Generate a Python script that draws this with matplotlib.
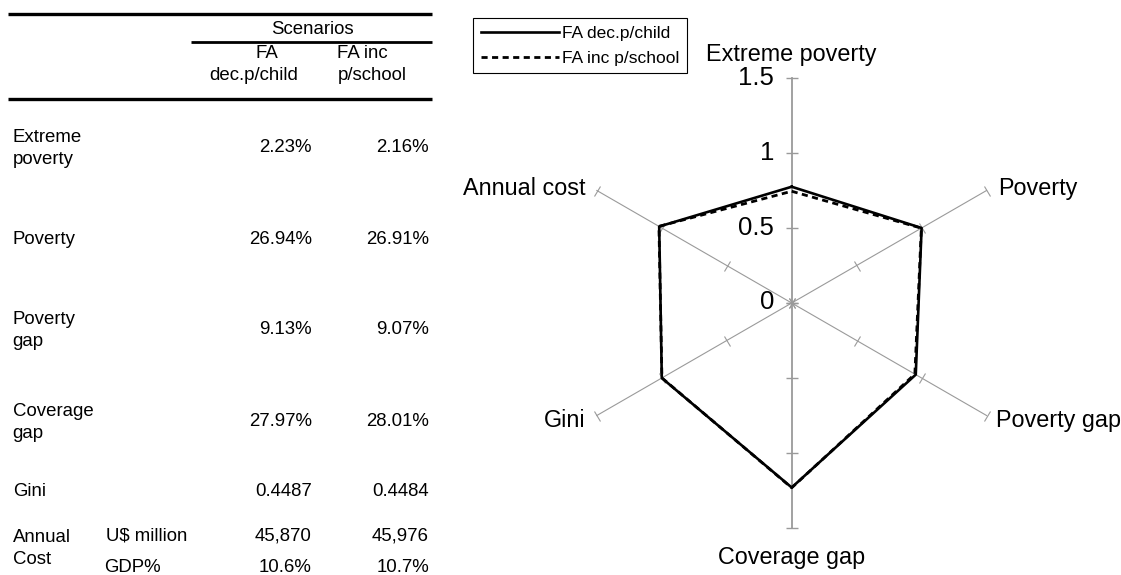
import numpy as np
import matplotlib
matplotlib.use("Agg")
import matplotlib.pyplot as plt
from matplotlib.markers import MarkerStyle
from matplotlib.transforms import Affine2D

plt.rcParams['font.family'] = ['Liberation Sans', 'DejaVu Sans']

# ---- table content ----
scenario_names = ["FA dec.p/child", "FA inc p/school"]
row_labels = ["Extreme\npoverty", "Poverty", "Poverty\ngap", "Coverage\ngap", "Gini", "Annual\nCost"]
col_dec = ["2.23%", "26.94%", "9.13%", "27.97%", "0.4487", "45,870", "10.6%"]
col_inc = ["2.16%", "26.91%", "9.07%", "28.01%", "0.4484", "45,976", "10.7%"]
cost_units = ["U$ million", "GDP%"]

# ---- radar content (relative index) ----
categories = ["Extreme poverty", "Poverty", "Poverty gap", "Coverage gap", "Gini", "Annual cost"]
radar_dec = [0.775, 1.00, 0.955, 1.23, 1.00, 1.02]
radar_inc = [0.745, 0.998, 0.948, 1.232, 0.999, 1.022]
r_ticks = [0, 0.5, 1, 1.5]
r_tick_labels = ["0", "0.5", "1", "1.5"]

W, H = 1121, 575
fig = plt.figure(figsize=(W / 100, H / 100), dpi=100)
fig.patch.set_facecolor("white")

# ---------------- table (pixel-unit overlay) ----------------
tab = fig.add_axes([0, 0, 1, 1])
tab.set_xlim(0, W)
tab.set_ylim(H, 0)
tab.axis("off")

fs = 13.4
tab.plot([8, 432], [13.5, 13.5], color="black", lw=2.4, solid_capstyle="butt")
tab.plot([191, 432], [42.3, 42.3], color="black", lw=2.0, solid_capstyle="butt")
tab.plot([8, 432], [99, 99], color="black", lw=2.4, solid_capstyle="butt")

tab.text(312, 34, "Scenarios", ha="center", va="baseline", fontsize=fs)
tab.text(267, 58, "FA", ha="center", va="baseline", fontsize=fs)
tab.text(254, 80, "dec.p/child", ha="center", va="baseline", fontsize=fs)
tab.text(362, 58, "FA inc", ha="center", va="baseline", fontsize=fs)
tab.text(372, 80, "p/school", ha="center", va="baseline", fontsize=fs)

label_x = 12.7
label_base = [142.5, 244, 324, 415.5, 496.5, 541.5]
value_base = [152.5, 244, 334.5, 426.5, 496.5, 540.5]
for lab, yb in zip(row_labels, label_base):
    for k, line in enumerate(lab.split("\n")):
        tab.text(label_x, yb + k * 22, line, ha="left", va="baseline", fontsize=fs)

x1, x2 = 311.7, 429
for v1, v2, yb in zip(col_dec[:6], col_inc[:6], value_base):
    tab.text(x1, yb, v1, ha="right", va="baseline", fontsize=fs)
    tab.text(x2, yb, v2, ha="right", va="baseline", fontsize=fs)
# GDP share row
gdp_y = 572.5
tab.text(104, gdp_y, cost_units[1], ha="left", va="baseline", fontsize=fs)
tab.text(x1, gdp_y, col_dec[6], ha="right", va="baseline", fontsize=fs)
tab.text(x2, gdp_y, col_inc[6], ha="right", va="baseline", fontsize=fs)
tab.text(106, 540.5, cost_units[0], ha="left", va="baseline", fontsize=fs)

# ---------------- radar chart ----------------
cx, cy, R = 791.7, 303, 225
ax = fig.add_axes([(cx - R) / W, (H - cy - R) / H, 2 * R / W, 2 * R / H], projection="polar")
ax.set_theta_zero_location("N")
ax.set_theta_direction(-1)
ax.set_ylim(0, 1.5)
ax.grid(False)
ax.spines["polar"].set_visible(False)
ax.set_xticks([])
ax.set_yticks([])
ax.patch.set_visible(False)

n = len(categories)
theta = np.linspace(0, 2 * np.pi, n, endpoint=False)
spoke_col = "#9a9a9a"
for i, t in enumerate(theta):
    ax.plot([t, t], [0, 1.5], color=spoke_col, lw=1.3 if i in (0, 3) else 0.8,
            clip_on=False, zorder=1)
    rot = -np.degrees(t)
    mk = MarkerStyle("_", transform=Affine2D().rotate_deg(rot))
    ax.plot([t] * len(r_ticks), r_ticks, linestyle="none", marker=mk, ms=9,
            mec=spoke_col, mew=1.0 if i in (0, 3) else 0.8, clip_on=False, zorder=1)

th_closed = np.append(theta, theta[0])
l_inc, = ax.plot(th_closed, radar_inc + radar_inc[:1], color="black", lw=2.0,
                 linestyle=(0, (2.2, 1.6)), clip_on=False, zorder=3,
                 label=scenario_names[1])
l_dec, = ax.plot(th_closed, radar_dec + radar_dec[:1], color="black", lw=1.9,
                 clip_on=False, zorder=4, label=scenario_names[0])

# radial scale labels on the top spoke
for rv, rl in zip(r_ticks, r_tick_labels):
    ax.annotate(rl, xy=(0, rv), xytext=(-12.5, 0.5 if rv == 0 else 0),
                textcoords="offset points", ha="right", va="center",
                fontsize=18.5, annotation_clip=False)

# category names around the chart
cat_offsets = [
    ((0, 17), "center", "center"),
    ((8, 1.5), "left", "center"),
    ((6.5, -3.5), "left", "center"),
    ((0, -21), "center", "center"),
    ((-8, -3.5), "right", "center"),
    ((-8, 1.5), "right", "center"),
]
for t, name, (off, ha, va) in zip(theta, categories, cat_offsets):
    ax.annotate(name, xy=(t, 1.5), xytext=off, textcoords="offset points",
                ha=ha, va=va, fontsize=16.8, annotation_clip=False)

leg = fig.legend(handles=[l_dec, l_inc], loc="upper left",
                 bbox_to_anchor=(473 / W, 1 - 18 / H), fontsize=12.5,
                 frameon=True, fancybox=False, edgecolor="black", framealpha=1,
                 borderpad=0.45, labelspacing=0.55, handlelength=4.5,
                 handletextpad=0.15, borderaxespad=0)
leg.get_frame().set_linewidth(0.8)

fig.savefig("out.png", dpi=100, facecolor="white")
